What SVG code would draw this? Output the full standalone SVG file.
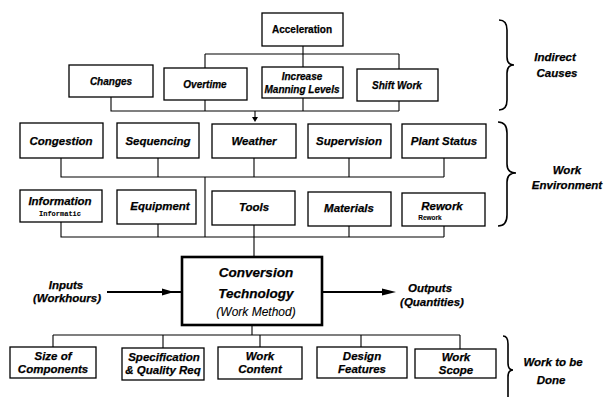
<svg xmlns="http://www.w3.org/2000/svg" width="604" height="397" viewBox="0 0 604 397">
<style>
.box{fill:#fff;stroke:#000;stroke-width:1.3}
.thick{fill:#fff;stroke:#000;stroke-width:2.6}
.t{font-family:"Liberation Sans",Arial,sans-serif;font-weight:bold;font-style:italic;font-size:10px;text-anchor:middle;fill:#000;stroke:#000;stroke-width:0.25}
.l{font-size:11.5px}
.lab{font-size:11.5px}
.big{font-size:13.5px}
.med{font-size:12px;font-weight:normal;stroke-width:0.1}
.mono{font-family:"Liberation Mono","Courier New",monospace;font-size:7px;font-style:normal;font-weight:bold;stroke-width:0.1}
.sm{font-size:6.5px;font-style:normal;stroke-width:0.1}
.c{fill:none;stroke:#000;stroke-width:1.1}
.br{fill:none;stroke:#000;stroke-width:1.6}
</style>
<rect width="604" height="397" fill="#fff"/>
<g id="connectors">
<path class="c" d="M303,46V67M205,54H399M205,54V68M399,54V69"/>
<path class="c" d="M111,97V111H399M205,100V111M303,98V111M399,101V111"/>
<path class="c" d="M255,111V118"/>
<polygon points="252,117 258,117 255,122" fill="#000"/>
<path class="c" d="M61,158V177H444M158,158V177M254,158V177M349,158V177M444,158V177M205,177V237"/>
<path class="c" d="M61,222V237H444M158,224V237M349,226V237M444,226V237M254,225V257"/>
<path class="c" d="M252,325V335M53,335H460M53,335V347M163,335V348M260,335V347M361,335V347M460,335V349"/>
<path d="M107,292H182" stroke="#000" stroke-width="2.2" fill="none"/>
<polygon points="162,288.5 174,292 162,295.5" fill="#000"/>
<path d="M322,292H384" stroke="#000" stroke-width="2.2" fill="none"/>
<polygon points="382,288.5 396,292 382,295.5" fill="#000"/>
</g>
<g id="acceleration"><rect class="box" x="262" y="13" width="81" height="33"/><text class="t" x="302" y="33" style="font-style:normal">Acceleration</text></g>
<g id="changes"><rect class="box" x="69" y="65" width="84" height="32"/><text class="t" x="111" y="85">Changes</text></g>
<g id="overtime"><rect class="box" x="164" y="68" width="83" height="32"/><text class="t" x="205" y="88">Overtime</text></g>
<g id="manning"><rect class="box" x="262" y="67" width="81" height="31"/><text class="t" x="302" y="80">Increase</text><text class="t" x="302" y="93">Manning Levels</text></g>
<g id="shiftwork"><rect class="box" x="357" y="69" width="81" height="32"/><text class="t" x="397" y="89">Shift Work</text></g>
<g id="congestion"><rect class="box" x="20" y="123" width="83" height="35"/><text class="t l" x="61" y="145">Congestion</text></g>
<g id="sequencing"><rect class="box" x="117" y="123" width="82" height="35"/><text class="t l" x="158" y="145">Sequencing</text></g>
<g id="weather"><rect class="box" x="212" y="124" width="84" height="34"/><text class="t l" x="254" y="145">Weather</text></g>
<g id="supervision"><rect class="box" x="308" y="124" width="83" height="34"/><text class="t l" x="349" y="145">Supervision</text></g>
<g id="plantstatus"><rect class="box" x="402" y="124" width="84" height="34"/><text class="t l" x="444" y="145">Plant Status</text></g>
<g id="information"><rect class="box" x="20" y="190" width="82" height="32"/><text class="t l" x="60" y="205">Information</text><text class="t mono" x="60" y="216">Informatic</text></g>
<g id="equipment"><rect class="box" x="117" y="190" width="79" height="34"/><text class="t l" x="160" y="210">Equipment</text></g>
<g id="tools"><rect class="box" x="212" y="191" width="83" height="34"/><text class="t l" x="254" y="211">Tools</text></g>
<g id="materials"><rect class="box" x="308" y="192" width="83" height="34"/><text class="t l" x="349" y="212">Materials</text></g>
<g id="rework"><rect class="box" x="402" y="193" width="83" height="33"/><text class="t l" x="442" y="210">Rework</text><text class="t sm" x="430" y="220">Rework</text></g>
<g id="conversion"><rect class="thick" x="182" y="257" width="140" height="68"/><text class="t big" x="256" y="277">Conversion</text><text class="t big" x="256" y="298">Technology</text><text class="t med" x="256" y="316">(Work Method)</text></g>
<g id="inputs"><text class="t l" x="66" y="289">Inputs</text><text class="t l" x="67" y="302">(Workhours)</text></g>
<g id="outputs"><text class="t l" x="430" y="292">Outputs</text><text class="t l" x="432" y="306">(Quantities)</text></g>
<g id="size"><rect class="box" x="10" y="347" width="86" height="31"/><text class="t l" x="53" y="360">Size of</text><text class="t l" x="53" y="373">Components</text></g>
<g id="spec"><rect class="box" x="122" y="348" width="82" height="32"/><text class="t l" x="164" y="361">Specification</text><text class="t l" x="163" y="374">&amp; Quality Req</text></g>
<g id="content"><rect class="box" x="218" y="347" width="84" height="32"/><text class="t l" x="260" y="360">Work</text><text class="t l" x="260" y="373">Content</text></g>
<g id="design"><rect class="box" x="317" y="347" width="90" height="31"/><text class="t l" x="362" y="360">Design</text><text class="t l" x="362" y="373">Features</text></g>
<g id="scope"><rect class="box" x="415" y="349" width="81" height="29"/><text class="t l" x="456" y="361">Work</text><text class="t l" x="456" y="374">Scope</text></g>
<g id="braces">
<path class="br" d="M499,20Q507,20 507,30V57Q507,65 514,65Q507,65 507,73V100Q507,110 499,110"/>
<path class="br" d="M498,122Q507,122 507,133V164Q507,173 516,173Q507,173 507,182V215Q507,226 498,226"/>
<path class="br" d="M503,336Q508,336 508,344V363Q508,370 513,370Q508,370 508,377V397"/>
<text class="t lab" x="555" y="61">Indirect</text><text class="t lab" x="557" y="77">Causes</text>
<text class="t lab" x="567" y="174">Work</text><text class="t lab" x="567" y="189">Environment</text>
<text class="t lab" x="553" y="366">Work to be</text><text class="t lab" x="551" y="384">Done</text>
</g>
</svg>
